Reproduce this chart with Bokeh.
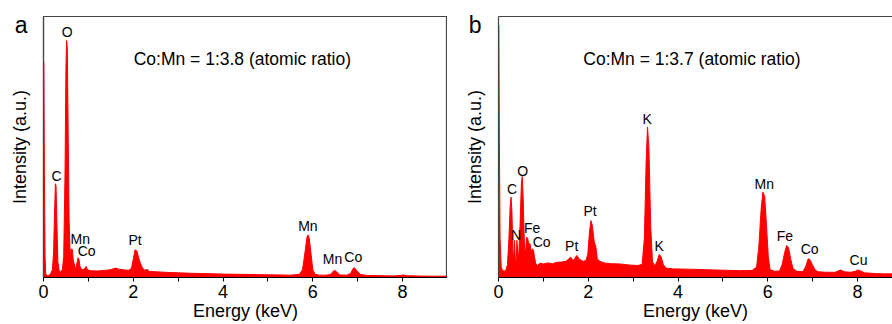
from bokeh.plotting import figure
from bokeh.layouts import row
from bokeh.models import Range1d, Label, FixedTicker, LinearAxis
from bokeh.embed import file_html
from bokeh.resources import INLINE
from bokeh.core.properties import value

FONT = "Liberation Sans"
RED = "#ff0000"

# ---------------- Panel a data (energy keV, intensity a.u.) ----------------
energy_a = [0.000, 0.008, 0.02, 0.035, 0.05, 0.08, 0.12, 0.16, 0.20, 0.225, 0.245, 0.265, 0.28, 0.30,
            0.32, 0.35, 0.38, 0.42, 0.45, 0.48, 0.50, 0.515, 0.53, 0.55, 0.57, 0.59, 0.61, 0.63, 0.645,
            0.66, 0.68, 0.70, 0.72, 0.745, 0.77, 0.79, 0.81, 0.84, 0.88, 0.92, 0.95, 0.98, 1.05, 1.2,
            1.35, 1.5, 1.6, 1.7, 1.8, 1.9, 1.96, 2.0, 2.04, 2.08, 2.12, 2.16, 2.2, 2.25, 2.31, 2.36,
            2.5, 2.7, 3.0, 3.3, 3.6, 4.0, 4.4, 4.8, 5.2, 5.5, 5.7, 5.77, 5.82, 5.87, 5.89, 5.92, 5.96,
            6.0, 6.05, 6.15, 6.3, 6.4, 6.46, 6.49, 6.53, 6.6, 6.75, 6.84, 6.9, 6.93, 6.98, 7.06, 7.2,
            7.5, 7.8, 7.96, 8.02, 8.08, 8.4, 8.7, 9.0]
counts_a = [82.5, 82.5, 40, 8, 1.5, 0.6, 0.8, 1.5, 3, 10, 24, 35.9, 35, 20,
            6, 2.5, 2.2, 3, 8, 40, 80, 90.8, 88, 55, 22, 11, 9, 11, 10.5,
            7, 5.5, 4.2, 3.5, 5.5, 7.6, 7, 4.5, 3.2, 3, 3.5, 4.2, 3, 2.6, 2.5,
            2.7, 3, 3.6, 3.1, 2.9, 2.8, 3.5, 7, 10.6, 10.2, 7.5, 5.4, 3.8, 2.8, 3.1, 2.3,
            2.2, 2, 1.8, 1.6, 1.5, 1.3, 1.2, 1.1, 1.0, 0.9, 1.2, 3, 9, 15.5, 16.3, 15, 9,
            3, 1.2, 0.9, 0.9, 1.2, 2.5, 2.7, 2.2, 1.0, 0.9, 1.5, 3.5, 3.7, 2.6, 1.2, 0.8,
            0.7, 0.6, 0.8, 1.0, 0.7, 0.55, 0.5, 0.5]

labels_a = ["O", "C", "Mn", "Co", "Pt", "Mn", "Mn", "Co"]
label_x_a = [0.53, 0.29, 0.82, 0.96, 2.04, 5.89, 6.44, 6.90]
label_y_a = [92.3, 36.8, 13.0, 8.4, 12.3, 17.7, 5.0, 5.9]

# ---------------- Panel b data ----------------
energy_b = [0.000, 0.008, 0.02, 0.035, 0.06, 0.09, 0.13, 0.17, 0.2, 0.23, 0.26, 0.28, 0.30, 0.32,
            0.335, 0.355, 0.375, 0.395, 0.41, 0.43, 0.45, 0.48, 0.51, 0.53, 0.55, 0.58, 0.60, 0.625,
            0.65, 0.68, 0.70, 0.73, 0.76, 0.78, 0.80, 0.83, 0.87, 0.92, 1.0, 1.1, 1.2, 1.3, 1.4, 1.5,
            1.56, 1.6, 1.64, 1.68, 1.72, 1.75, 1.8, 1.88, 1.95, 1.99, 2.03, 2.06, 2.09, 2.13, 2.17,
            2.2, 2.25, 2.35, 2.5, 2.7, 2.9, 3.1, 3.2, 3.25, 3.29, 3.32, 3.35, 3.39, 3.43, 3.48, 3.53,
            3.58, 3.62, 3.67, 3.73, 3.9, 4.2, 4.6, 5.0, 5.4, 5.65, 5.75, 5.8, 5.85, 5.89, 5.93, 5.97,
            6.01, 6.05, 6.15, 6.26, 6.32, 6.38, 6.42, 6.46, 6.51, 6.56, 6.65, 6.78, 6.84, 6.9, 6.94,
            6.99, 7.05, 7.12, 7.3, 7.5, 7.62, 7.7, 7.85, 7.95, 8.01, 8.07, 8.15, 8.4, 8.6, 8.8]
counts_b = [96.5, 96.5, 50, 15, 4, 2.7, 2.5, 3, 5, 14, 27, 30.8, 25, 10,
            6, 14.2, 7, 6.5, 14.2, 9, 7.8, 20, 36, 38.7, 30, 11, 9, 15.5,
            15, 12, 13, 10, 11, 10.3, 8, 5.4, 4.5, 5.5, 5.2, 5.6, 5.3, 5.8, 5.9, 6.2,
            7, 7.8, 7.2, 6.5, 8, 8.4, 7, 6.2, 6.5, 9, 18, 21.8, 20, 14, 11.6,
            7.2, 6.3, 5.6, 5.3, 5.2, 4.8, 4.6, 5, 15, 45, 57.6, 50, 20, 6, 4.5, 6,
            8.8, 8, 5, 3.6, 3.3, 3.2, 3, 2.8, 2.6, 2.7, 4, 12, 26, 32.7, 31, 20,
            8, 3, 2.4, 2.5, 5, 10, 12.3, 11.5, 7, 3.5, 2.3, 2.3, 4, 7.2, 6.8,
            5, 3, 2.2, 2, 2.0, 2.9, 2.2, 2, 2.4, 2.9, 2.5, 1.8, 1.5, 1.4, 1.4]

labels_b = ["C", "O", "N", "Fe", "Co", "Pt", "Pt", "K", "K", "Mn", "Fe", "Co", "Cu"]
label_x_b = [0.30, 0.54, 0.39, 0.75, 0.96, 1.63, 2.04, 3.31, 3.58, 5.92, 6.38, 6.93, 8.02]
label_y_b = [32.1, 38.8, 14.4, 17.1, 11.6, 10.1, 23.4, 58.9, 10.1, 34.0, 13.9, 9.1, 4.6]

x_ticks = [0, 2, 4, 6, 8]
x_minor_ticks = [1, 3, 5, 7]
letter_level = 96.9   # y level (a.u.) of the panel letters

HEIGHT = 324
BORDER_TOP = 16
BORDER_BOTTOM = 47
PX_PER_KEV = 404 / 9.0
TEXT_LIFT = 5 * 100 / 261.0   # ~5 px upward correction of text baselines, in a.u.


def make_panel(width, border_left, x_end, energy, counts, labels, lx, ly,
               ratio_text, ratio_x, letter, letter_standoff, full_outline):
    p = figure(width=width, height=HEIGHT, output_backend="svg", toolbar_location=None,
               x_range=Range1d(0, x_end), y_range=Range1d(0, 100),
               min_border_left=border_left, min_border_right=0,
               min_border_top=BORDER_TOP, min_border_bottom=BORDER_BOTTOM)
    p.xgrid.visible = False
    p.ygrid.visible = False
    p.background_fill_color = "white"
    p.border_fill_color = "white"

    p.varea(x=energy, y1=0, y2=counts, fill_color=RED)
    p.line(x=energy, y=counts, line_color=RED, line_width=1)

    ly_plot = [v + TEXT_LIFT for v in ly]
    p.text(x=lx, y=ly_plot, text=labels, text_font=value(FONT), text_font_size="14px",
           text_align="center", text_baseline="alphabetic", text_color="black")

    p.add_layout(Label(x=ratio_x, y=81.9 + TEXT_LIFT, text=ratio_text, text_font=FONT,
                       text_font_size="17.5px", text_align="center",
                       text_baseline="alphabetic", text_color="black"))

    xa = p.below[0]
    xa.ticker = FixedTicker(ticks=x_ticks, minor_ticks=x_minor_ticks)
    xa.axis_label = "Energy (keV)"
    xa.axis_label_text_font = FONT
    xa.axis_label_text_font_size = "18px"
    xa.axis_label_text_font_style = "normal"
    xa.axis_label_text_color = "black"
    xa.axis_label_standoff = 0
    xa.major_label_text_font = FONT
    xa.major_label_text_font_size = "18px"
    xa.major_label_text_color = "black"
    xa.major_label_standoff = 3
    xa.major_tick_out = 4
    xa.major_tick_in = 0
    xa.minor_tick_out = 4
    xa.minor_tick_in = 0
    xa.axis_line_color = "black"
    xa.axis_line_width = 1.2
    xa.major_tick_line_color = "black"
    xa.minor_tick_line_color = "black"

    # left axis: no numeric ticks; its single tick label carries the panel letter
    ya = p.left[0]
    ya.ticker = FixedTicker(ticks=[letter_level])
    ya.major_label_overrides = {letter_level: letter}
    ya.major_label_text_font = FONT
    ya.major_label_text_font_size = "23px"
    ya.major_label_text_color = "black"
    ya.major_label_orientation = "horizontal"
    ya.major_label_standoff = letter_standoff
    ya.major_tick_out = 0
    ya.major_tick_in = 0
    ya.major_tick_line_color = None
    ya.minor_tick_out = 0
    ya.minor_tick_line_color = None
    ya.axis_label = "Intensity (a.u.)"
    ya.axis_label_text_font = FONT
    ya.axis_label_text_font_size = "18px"
    ya.axis_label_text_font_style = "normal"
    ya.axis_label_text_color = "black"
    ya.axis_label_standoff = 11 - (letter_standoff + 13)
    ya.axis_line_color = "#444444"
    ya.axis_line_width = 1.2

    if full_outline:
        p.outline_line_color = "#444444"
        p.outline_line_width = 1.2
    else:
        p.outline_line_color = None
        top = LinearAxis(ticker=FixedTicker(ticks=[]), axis_line_color="#444444",
                         axis_line_width=1.2, major_tick_out=0, major_tick_in=0,
                         minor_tick_out=0, major_label_standoff=0)
        p.add_layout(top, "above")
    return p


pa = make_panel(447, 43, 9.0, energy_a, counts_a, labels_a, label_x_a, label_y_a,
                "Co:Mn = 1:3.8 (atomic ratio)", 4.43, "a", 16, True)
pb = make_panel(445, 51, 394 / PX_PER_KEV, energy_b, counts_b, labels_b, label_x_b, label_y_b,
                "Co:Mn = 1:3.7 (atomic ratio)", 4.31, "b", 17, False)

layout = row(pa, pb, spacing=0)
open("out.html", "w").write(file_html(layout, INLINE))
